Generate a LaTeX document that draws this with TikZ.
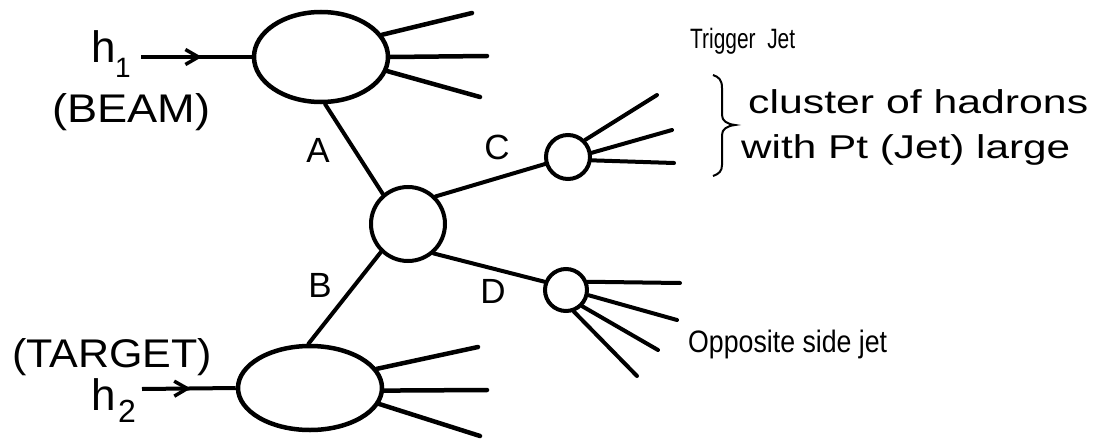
\documentclass[tikz,border=0pt]{standalone}
\usepackage{fontspec}
\setmainfont{Liberation Sans}
\usepackage{graphicx}
\usetikzlibrary{shapes.geometric,arrows.meta,decorations.markings}
\newcommand{\fitw}[2]{\resizebox{#1}{\height}{#2}}
\tikzset{
  blob/.style={ellipse,draw,line width=4.5pt,inner sep=0pt},
  vtx/.style={circle,draw,line width=4pt,inner sep=0pt},
  ln/.style={line width=4pt,line cap=round},
  jetln/.style={line width=4.5pt,line cap=round},
  inarrow/.style={line width=4pt,postaction={decorate},decoration={markings,
     mark=at position #1 with {\arrow{Straight Barb[length=13pt,width=15pt,line width=3.5pt]}}}},
  lbl/.style={inner sep=0pt,anchor=base west},
  letterlbl/.style={inner sep=0pt,font=\fontsize{35}{40}\selectfont},
}
\begin{document}
\begin{tikzpicture}[x=1pt,y=-1pt]
\useasboundingbox (0,0) rectangle (1098,439);
% main blobs
\node[blob,minimum width=134pt,minimum height=90pt] (top) at (321,57) {};
\node[blob,minimum width=144pt,minimum height=84pt] (bot) at (310,388) {};
\node[vtx,minimum size=74pt] (ctr) at (408,224) {};
\node[vtx,minimum size=44pt] (jc) at (568,157) {};
\node[vtx,minimum size=42pt] (jd) at (566,290) {};
% incoming beams
\coordinate (h1s) at (141,57);
\coordinate (h2s) at (142,389);
\draw[inarrow=0.55] (h1s) -- (top.west);
\draw[inarrow=0.52] (h2s) -- (bot.west);
% partons
\draw[ln] (top.275) -- (ctr.130);
\draw[ln] (ctr.226) -- (bot.92);
\draw[ln] (ctr.45) -- (jc.197);
\draw[ln] (ctr.-49) -- (jd.159);
% beam jets
\coordinate (t1) at (472,13);
\coordinate (t2) at (487,56);
\coordinate (t3) at (480,97);
\draw[jetln] (top.20) -- (t1);
\draw[jetln] (top.0) -- (t2);
\draw[jetln] (top.-12) -- (t3);
\coordinate (b1) at (478,347);
\coordinate (b2) at (487,390);
\coordinate (b3) at (480,436);
\draw[jetln] (bot.16) -- (b1);
\draw[jetln] (bot.-2) -- (b2);
\draw[jetln] (bot.-13) -- (b3);
% trigger jet
\coordinate (c1) at (657,95);
\coordinate (c2) at (672,130);
\coordinate (c3) at (674,163);
\draw[ln] (jc.45) -- (c1);
\draw[ln] (jc.10) -- (c2);
\draw[ln] (jc.-8) -- (c3);
% opposite jet
\coordinate (d1) at (680,283);
\coordinate (d2) at (677,320);
\coordinate (d3) at (658,350);
\coordinate (d4) at (637,376);
\draw[ln] (jd.21) -- (d1);
\draw[ln] (jd.-13) -- (d2);
\draw[ln] (jd.-45) -- (d3);
\draw[ln] (jd.-70) -- (d4);
% brace
\draw[line width=2pt] (713,75) .. controls (719,77) and (722,80) .. (722,88) -- (722,115)
  .. controls (722,121) and (727,124) .. (735,125)
  .. controls (727,126) and (722,129) .. (722,135) -- (722,165)
  .. controls (722,171) and (719,174) .. (713,176);
% labels
\node[lbl,font=\fontsize{44}{50}\selectfont] (h1) at (91,62) {h};
\node[lbl,font=\fontsize{28}{32}\selectfont] (h1i) at (115,77) {1};
\node[lbl,font=\fontsize{40}{46}\selectfont] (beam) at (52,122) {\fitw{158pt}{(BEAM)}};
\node[lbl,font=\fontsize{40}{46}\selectfont] (tgt) at (12,367) {\fitw{200pt}{(TARGET)}};
\node[lbl,font=\fontsize{44}{50}\selectfont] (h2) at (91,410) {h};
\node[lbl,font=\fontsize{32}{36}\selectfont] (h2i) at (118,422) {2};
\node[letterlbl] (la) at (318,150) {A};
\node[letterlbl] (lb) at (320,285) {B};
\node[letterlbl] (lc) at (497,147) {C};
\node[letterlbl] (ld) at (493,291) {D};
\node[lbl,font=\fontsize{28}{32}\selectfont] (trig) at (690,48) {\fitw{105pt}{Trigger\ \ Jet}};
\node[lbl,font=\fontsize{33}{38}\selectfont] (cl1) at (748,113) {\fitw{340pt}{cluster of hadrons}};
\node[lbl,font=\fontsize{33}{38}\selectfont] (cl2) at (741,158) {\fitw{329pt}{with Pt (Jet) large}};
\node[lbl,font=\fontsize{31}{36}\selectfont] (opp) at (688,352) {\fitw{199pt}{Opposite side jet}};
\end{tikzpicture}
\end{document}
